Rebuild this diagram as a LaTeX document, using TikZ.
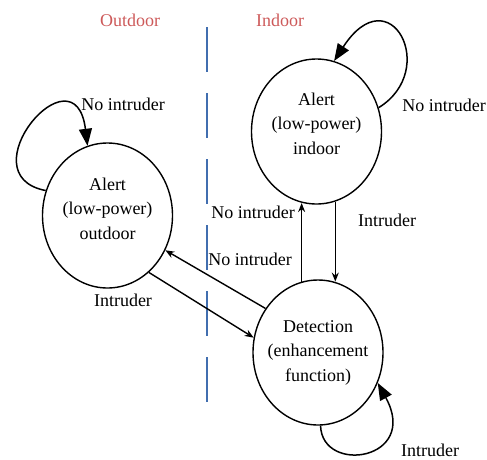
\documentclass[tikz,border=0pt]{standalone}
\usepackage{fontspec}
\setmainfont{Liberation Serif}
\usetikzlibrary{arrows.meta,shapes.geometric}
\definecolor{titlered}{RGB}{205,90,90}
\definecolor{dashblue}{RGB}{65,110,175}
\begin{document}
\begin{tikzpicture}[x=1pt,y=-1pt,
 stateshape/.style={draw,ellipse,line width=1.4pt,minimum width=130pt,minimum height=145pt,inner sep=0pt},
 lbl/.style={font=\fontsize{18}{24.5}\selectfont,inner sep=0pt},
 statetext/.style={lbl,align=center},
 arr/.style={line width=1.4pt,-{Stealth[length=9pt,width=7pt]}},
 looparr/.style={line width=1.5pt,-{Triangle[length=17pt,width=13pt]}},
 divider/.style={dashblue,line width=2pt,dash pattern=on 45pt off 21pt}
]
\useasboundingbox (0,0) rectangle (487,459);

% states
\node[stateshape] (out) at (107.5,215.5) {};
\node[stateshape] (in) at (316.5,131.5) {};
\node[stateshape] (det) at (318,352.5) {};

\node[statetext] (outt) at ([yshift=7pt]out.center) {Alert\\(low-power)\\outdoor};
\node[statetext] (int) at ([yshift=8pt]in.center) {Alert\\(low-power)\\indoor};
\node[statetext] (dett) at (det.center) {Detection\\(enhancement\\function)};

% titles
\node[lbl,text=titlered] (tout) at (130,20) {Outdoor};
\node[lbl,text=titlered] (tin) at (280,20) {Indoor};

% divider
\coordinate (dtop) at (207,27);
\coordinate (dbot) at (207,403);
\draw[divider] (dtop) -- (dbot);

% labels
\node[lbl] (l1) at (123,104) {No intruder};
\node[lbl] (l2) at (444,105) {No intruder};
\node[lbl] (l3) at (253,212) {No intruder};
\node[lbl] (l4) at (387,220) {Intruder};
\node[lbl] (l5) at (250,259) {No intruder};
\node[lbl] (l6) at (123,300) {Intruder};
\node[lbl] (l7) at (430,450) {Intruder};

% transitions
\draw[arr] (det.140) -- (out.-31);
\draw[arr] (out.-54) -- (det.167);
\draw[arr] (det.103) -- (det.103 |- in.-101);
\draw[arr] (in.-75) -- (in.-75 |- det.77);

% self loops
\draw[looparr] (out.158) .. controls (-35,175) and (75,45) .. (out.106);
\draw[looparr] (in.21) .. controls (440,70) and (390,-25) .. (in.76);
\draw[looparr] (det.-88) .. controls (322,475) and (420,460) .. (det.-27);
\end{tikzpicture}
\end{document}
